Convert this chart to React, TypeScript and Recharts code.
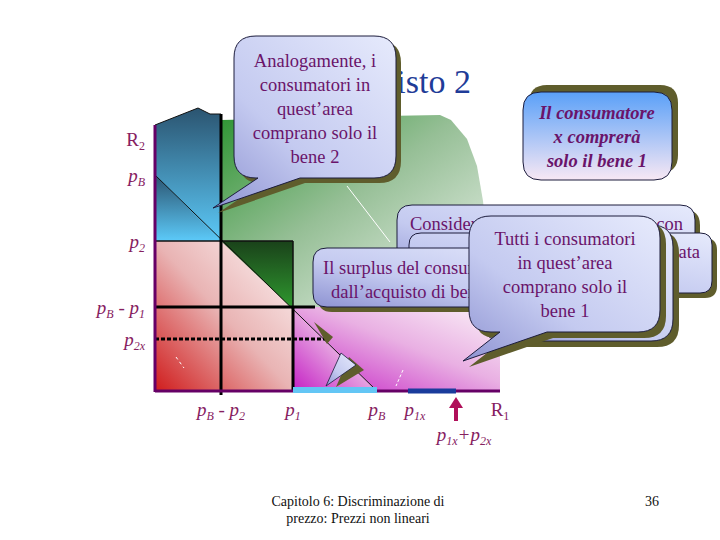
import React from "react";
import { ComposedChart, Area, XAxis, YAxis, ReferenceLine, ReferenceDot } from "recharts";

// tick labels and their positions (units measured from the origin of the diagram)
const xTickLabels = ["p_{B} - p_{2}", "p_{1}", "p_{B}", "p_{1x}", "p_{1x}+p_{2x}", "R_{1}"];
const xTickValues = [66, 138, 222, 253, 301, 345];
const yTickLabels = ["R_{2}", "p_{B}", "p_{2}", "p_{B} - p_{1}", "p_{2x}"];
const yTickValues = [252, 216, 150, 84, 52];
const arrowTick = "p_{1x}+p_{2x}";

// outlines
const blueTop = [
  { x: 0, y: 266 },
  { x: 43, y: 283 },
  { x: 55, y: 277 },
  { x: 66, y: 277 },
];
const greenTop = [
  { x: 66, y: 271 },
  { x: 230, y: 275 },
  { x: 285, y: 276 },
  { x: 296, y: 271 },
  { x: 312, y: 252 },
  { x: 322, y: 225 },
  { x: 328, y: 190 },
  { x: 332, y: 150 },
  { x: 334, y: 84 },
];
const dottedEnd = 172;

const LABEL = "#86205f";
const AXIS = "#660066";
const TEXT = "#6a146a";
const OLIVE = "#5f5d2c";
const SERIF = "'Liberation Serif', 'DejaVu Serif', serif";

function TickText({ label, x, y, anchor }: { label: string; x: number; y: number; anchor: "start" | "middle" | "end" }) {
  const parts = label.split(/(_\{[^}]*\})/).filter((p) => p !== "");
  const upright = label.startsWith("R");
  let prevSub = false;
  return (
    <text x={x} y={y} textAnchor={anchor} fill={LABEL} fontFamily={SERIF} fontSize={19} fontStyle={upright ? "normal" : "italic"}>
      {parts.map((p, i) => {
        if (p.startsWith("_{")) {
          prevSub = true;
          return (
            <tspan key={i} fontSize={12} dy={4}>
              {p.slice(2, -1)}
            </tspan>
          );
        }
        const dy = prevSub ? -4 : 0;
        prevSub = false;
        return (
          <tspan key={i} dy={dy}>
            {p}
          </tspan>
        );
      })}
    </text>
  );
}

type Box = { x: number; y: number; w: number; h: number; r: number; tail?: { b1: number; b2: number; tx: number; ty: number } };

function boxPath({ x, y, w, h, r, tail }: Box, dx = 0, dy = 0) {
  const X = x + dx;
  const Y = y + dy;
  let d = `M${X + r},${Y} H${X + w - r} Q${X + w},${Y} ${X + w},${Y + r} V${Y + h - r} Q${X + w},${Y + h} ${X + w - r},${Y + h}`;
  if (tail) d += ` H${tail.b1 + dx} L${tail.tx + dx},${tail.ty + dy} L${tail.b2 + dx},${Y + h}`;
  d += ` H${X + r} Q${X},${Y + h} ${X},${Y + h - r} V${Y + r} Q${X},${Y} ${X + r},${Y} Z`;
  return d;
}

function Callout({
  box,
  fill = "url(#gLav)",
  shadow = [6, 6],
  lines,
  cx,
  y0,
  gap = 24,
  bold = false,
  italic = false,
}: {
  box: Box;
  fill?: string;
  shadow?: [number, number];
  lines: string[];
  cx: number;
  y0: number;
  gap?: number;
  bold?: boolean;
  italic?: boolean;
}) {
  return (
    <g>
      <path d={boxPath(box, shadow[0], shadow[1])} fill={OLIVE} />
      <path d={boxPath(box)} fill={fill} stroke="#1c1c3c" strokeWidth={1} />
      {lines.map((l, i) => (
        <text
          key={i}
          x={cx}
          y={y0 + i * gap}
          textAnchor="middle"
          fill={TEXT}
          fontFamily={SERIF}
          fontSize={18.5}
          fontWeight={bold ? "bold" : "normal"}
          fontStyle={italic ? "italic" : "normal"}
        >
          {l}
        </text>
      ))}
    </g>
  );
}

function Overlay() {
  const consA: Box = { x: 397, y: 205, w: 298, h: 80, r: 15 };
  const consB: Box = { x: 409, y: 233, w: 303, h: 60, r: 12 };
  const surplus: Box = { x: 313, y: 248, w: 300, h: 59, r: 14 };
  const tutti: Box = { x: 469, y: 216, w: 191, h: 116, r: 22, tail: { b1: 547, b2: 500, tx: 463, ty: 361 } };
  const tuttiBack: Box = { x: 482, y: 225, w: 191, h: 116, r: 22 };
  return (
    <svg width={720} height={540} style={{ position: "absolute", left: 0, top: 0, pointerEvents: "none" }}>
      <line x1={347} y1={186} x2={390} y2={242} stroke="#fff" strokeWidth={1} />
      <line x1={176} y1={357} x2={184} y2={368} stroke="#fff" strokeWidth={1} strokeDasharray="3 3" />
      <line x1={403} y1={370} x2={396} y2={386} stroke="#fff" strokeWidth={1} strokeDasharray="3 2" />

      <text x={471} y={93} textAnchor="end" fill="#1f3c98" fontFamily={SERIF} fontSize={34}>
        Acquisto 2
      </text>

      <path d={boxPath(consA, 5, 5)} fill={OLIVE} />
      <path d={boxPath(consA)} fill="url(#gLav)" stroke="#1c1c3c" />
      <text x={410} y={230} fill={TEXT} fontFamily={SERIF} fontSize={18.5} wordSpacing={11}>
        Considerando i consumatori con
      </text>
      <path d={boxPath(consB, 5, 5)} fill={OLIVE} />
      <path d={boxPath(consB)} fill="url(#gLav)" stroke="#1c1c3c" />
      <text x={700} y={258} textAnchor="end" fill={TEXT} fontFamily={SERIF} fontSize={18.5}>
        aggregata
      </text>

      <path d={boxPath(surplus, 5, 5)} fill={OLIVE} />
      <path d={boxPath(surplus)} fill="url(#gLav)" stroke="#1c1c3c" />
      <text x={323} y={274} fill={TEXT} fontFamily={SERIF} fontSize={18.5}>
        Il surplus del consumatore
      </text>
      <text x={331} y={298} fill={TEXT} fontFamily={SERIF} fontSize={18.5}>
        dall’acquisto di bene 1
      </text>
      <polygon points="336,387 349,357 364,370" fill={OLIVE} />
      <polygon points="326,386 341,353 356,365" fill="url(#gLav)" stroke="#1c1c3c" strokeWidth={0.8} />
      <polygon points="314,322 333,337 327,344" fill={OLIVE} />

      <path d={boxPath(tuttiBack, 6, 6)} fill={OLIVE} />
      <path d={boxPath(tuttiBack)} fill="url(#gLav)" stroke="#1c1c3c" />
      <Callout box={tutti} lines={["Tutti i consumatori", "in quest’area", "comprano solo il", "bene 1"]} cx={565} y0={245} />

      <Callout
        box={{ x: 234, y: 36, w: 162, h: 142, r: 22, tail: { b1: 300, b2: 258, tx: 213, ty: 208 } }}
        shadow={[5, 5]}
        lines={["Analogamente, i", "consumatori in", "quest’area", "comprano solo il", "bene 2"]}
        cx={315}
        y0={67}
      />
      <Callout
        box={{ x: 523, y: 92, w: 149, h: 88, r: 18 }}
        fill="url(#gCons)"
        shadow={[6, -7]}
        lines={["Il consumatore", "x comprerà", "solo il bene 1"]}
        cx={597}
        y0={119}
        bold
        italic
      />

      <text x={358} y={506} textAnchor="middle" fill="#111" fontFamily={SERIF} fontSize={14}>
        Capitolo 6: Discriminazione di
      </text>
      <text x={358} y={523} textAnchor="middle" fill="#111" fontFamily={SERIF} fontSize={14}>
        prezzo: Prezzi non lineari
      </text>
      <text x={652} y={506} textAnchor="middle" fill="#111" fontFamily={SERIF} fontSize={14}>
        36
      </text>
    </svg>
  );
}

export default function App() {
  const xv = (k: string) => xTickValues[xTickLabels.indexOf(k)];
  const yv = (k: string) => yTickValues[yTickLabels.indexOf(k)];
  const pBx = xv("p_{B}");
  const pBy = yv("p_{B}");
  const diag = (x: number) => pBy * (1 - x / pBx);
  const p1 = xv("p_{1}");
  const pBp2 = xv("p_{B} - p_{2}");
  const p1x = xv("p_{1x}");
  const p1xp2x = xv(arrowTick);
  const R1 = xv("R_{1}");
  const p2 = yv("p_{2}");
  const pBp1 = yv("p_{B} - p_{1}");
  const p2x = yv("p_{2x}");

  const greenData = greenTop.map((d) => ({ x: d.x, range: [pBp1, d.y] }));
  const blueData = blueTop.map((d) => ({ x: d.x, range: [p2, d.y] }));
  const blueTriData = [
    { x: 0, range: [p2, pBy] },
    { x: pBp2, range: [p2, p2] },
  ];
  const pinkData = [
    { x: 0, range: [0, p2] },
    { x: p1, range: [0, p2] },
  ];
  const darkGreenData = [
    { x: pBp2, range: [p2, p2] },
    { x: p1, range: [diag(p1), p2] },
  ];
  const magentaTriData = [
    { x: p1, range: [0, diag(p1)] },
    { x: pBx, range: [0, 0] },
  ];
  const magentaData = [
    { x: p1, range: [diag(p1), pBp1] },
    { x: pBx, range: [0, pBp1] },
    { x: R1, range: [0, pBp1] },
  ];
  const topBlue = blueTop[blueTop.length - 1].y;
  const leftTop = blueTop[0].y;

  const areaProps = { type: "linear" as const, dataKey: "range", isAnimationActive: false, dot: false, activeDot: false };

  return (
    <div style={{ position: "absolute", left: 0, top: 0, width: 720, height: 540, background: "#fff", fontFamily: SERIF }}>
      <svg width={0} height={0} style={{ position: "absolute" }}>
        <defs>
          <linearGradient id="gBlue" x1="0" y1="0" x2="0" y2="1">
            <stop offset="0" stopColor="#2b5470" />
            <stop offset="1" stopColor="#5ccaf9" />
          </linearGradient>
          <linearGradient id="gGreen" x1="0" y1="0" x2="1" y2="1">
            <stop offset="0" stopColor="#2f9433" />
            <stop offset="0.45" stopColor="#96bf96" />
            <stop offset="1" stopColor="#f2f6f2" />
          </linearGradient>
          <linearGradient id="gPink" x1="1" y1="0" x2="0" y2="1">
            <stop offset="0" stopColor="#fdf6f6" />
            <stop offset="0.5" stopColor="#e9b4b4" />
            <stop offset="1" stopColor="#d01c1c" />
          </linearGradient>
          <linearGradient id="gDark" x1="0" y1="0" x2="0" y2="1">
            <stop offset="0" stopColor="#1a421a" />
            <stop offset="1" stopColor="#2f9a2f" />
          </linearGradient>
          <linearGradient id="gMag" x1="0" y1="1" x2="1" y2="0">
            <stop offset="0" stopColor="#c41fc4" />
            <stop offset="0.55" stopColor="#e9b0e3" />
            <stop offset="1" stopColor="#fbf2f8" />
          </linearGradient>
          <linearGradient id="gLav" x1="1" y1="0" x2="0" y2="1">
            <stop offset="0" stopColor="#e6eafc" />
            <stop offset="0.6" stopColor="#c4caf0" />
            <stop offset="1" stopColor="#8e93d2" />
          </linearGradient>
          <linearGradient id="gCons" x1="0" y1="0" x2="0" y2="1">
            <stop offset="0" stopColor="#5aa0f8" />
            <stop offset="1" stopColor="#f8e8f4" />
          </linearGradient>
        </defs>
      </svg>
      <ComposedChart width={720} height={540} margin={{ top: 0, right: 0, bottom: 0, left: 0 }}>
        <XAxis type="number" dataKey="x" domain={[-155, 565]} hide allowDataOverflow />
        <YAxis type="number" domain={[-149, 391]} hide allowDataOverflow />

        <Area {...areaProps} data={greenData} fill="url(#gGreen)" fillOpacity={1} stroke="none" />
        <Area {...areaProps} data={blueData} fill="url(#gBlue)" fillOpacity={1} stroke="#111" strokeWidth={1} />
        <Area {...areaProps} data={blueTriData} fill="url(#gBlue)" fillOpacity={1} stroke="none" />
        <Area {...areaProps} data={pinkData} fill="url(#gPink)" fillOpacity={1} stroke="none" />
        <Area {...areaProps} data={darkGreenData} fill="url(#gDark)" fillOpacity={1} stroke="none" />
        <Area {...areaProps} data={magentaTriData} fill="url(#gMag)" fillOpacity={1} stroke="none" />
        <Area {...areaProps} data={magentaData} fill="url(#gMag)" fillOpacity={1} stroke="none" />

        <ReferenceLine segment={[{ x: 0, y: pBy }, { x: pBx, y: 0 }]} stroke="#111" strokeWidth={1} />
        <ReferenceLine segment={[{ x: 0, y: p2 }, { x: p1, y: p2 }]} stroke="#111" strokeWidth={1.5} />
        <ReferenceLine segment={[{ x: p1, y: pBp1 }, { x: p1, y: p2 }]} stroke="#111" strokeWidth={1.5} />
        <ReferenceLine segment={[{ x: pBp2, y: -4 }, { x: pBp2, y: topBlue }]} stroke="#000" strokeWidth={3} />
        <ReferenceLine segment={[{ x: p1, y: 0 }, { x: p1, y: pBp1 }]} stroke="#000" strokeWidth={3} />
        <ReferenceLine segment={[{ x: 0, y: pBp1 }, { x: 160, y: pBp1 }]} stroke="#000" strokeWidth={3} />
        <ReferenceLine segment={[{ x: 0, y: p2x }, { x: dottedEnd, y: p2x }]} stroke="#000" strokeWidth={3} strokeDasharray="4 2" />
        <ReferenceLine segment={[{ x: 0, y: -1 }, { x: 0, y: leftTop }]} stroke={AXIS} strokeWidth={3} />
        <ReferenceLine segment={[{ x: 0, y: 0 }, { x: R1, y: 0 }]} stroke={AXIS} strokeWidth={3} />
        <ReferenceLine segment={[{ x: p1, y: 1 }, { x: pBx, y: 1 }]} stroke="#63c6f5" strokeWidth={6} />
        <ReferenceLine segment={[{ x: p1x, y: 0 }, { x: p1xp2x, y: 0 }]} stroke="#1a3c9c" strokeWidth={5} />

        {yTickLabels.map((l, i) => (
          <ReferenceDot
            key={l}
            x={0}
            y={yTickValues[i]}
            r={0}
            isFront
            shape={(p: any) => <TickText label={l} x={p.cx - 10} y={p.cy + 7} anchor="end" />}
          />
        ))}
        {xTickLabels.map((l, i) => (
          <ReferenceDot
            key={l}
            x={xTickValues[i]}
            y={0}
            r={0}
            isFront
            shape={(p: any) =>
              l === arrowTick ? (
                <g>
                  <rect x={p.cx - 2} y={p.cy + 14} width={4} height={16} fill="#b0105a" />
                  <polygon points={`${p.cx - 7},${p.cy + 17} ${p.cx + 7},${p.cy + 17} ${p.cx},${p.cy + 6}`} fill="#b0105a" />
                  <TickText label={l} x={p.cx + 8} y={p.cy + 50} anchor="middle" />
                </g>
              ) : (
                <TickText label={l} x={p.cx + (l === "p_{1x}" ? 7 : 0)} y={p.cy + 25} anchor="middle" />
              )
            }
          />
        ))}
      </ComposedChart>
      <Overlay />
    </div>
  );
}
